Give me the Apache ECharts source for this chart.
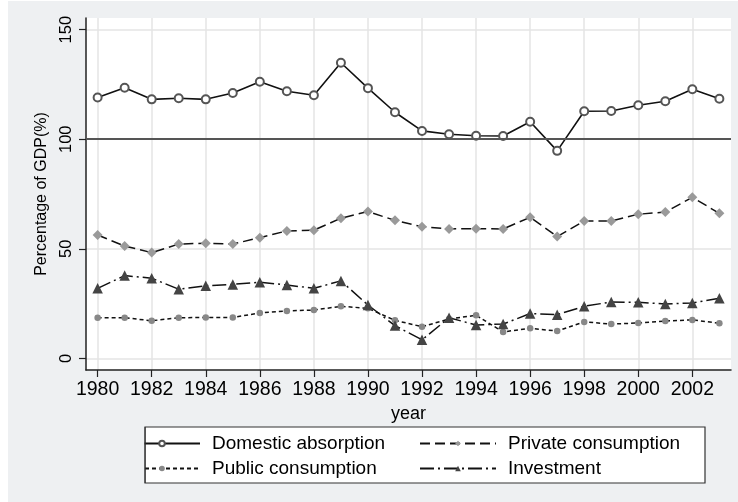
<!DOCTYPE html>
<html>
<head>
<meta charset="utf-8">
<script src="https://cdn.jsdelivr.net/npm/echarts@6/dist/echarts.min.js"></script>
<style>
  html, body { margin: 0; padding: 0; background: #ffffff; }
  #chart { position: absolute; left: 8px; top: 1px; width: 730px; height: 501px; }
</style>
</head>
<body>
<div id="chart"></div>
<script>
// Shares of GDP by expenditure component, 1980-2003
const years = [1980, 1981, 1982, 1983, 1984, 1985, 1986, 1987, 1988, 1989, 1990, 1991,
               1992, 1993, 1994, 1995, 1996, 1997, 1998, 1999, 2000, 2001, 2002, 2003];
const domesticAbsorption = [119.0, 123.5, 118.2, 118.7, 118.2, 121.1, 126.2, 121.9, 120.1, 134.9, 123.3, 112.3,
                            103.8, 102.3, 101.6, 101.5, 108.0, 94.7, 112.8, 112.9, 115.5, 117.3, 122.8, 118.5];
const privateConsumption = [56.3, 51.3, 48.3, 52.2, 52.6, 52.2, 55.1, 58.2, 58.5, 64.0, 67.0, 63.0,
                            60.1, 59.1, 59.2, 59.1, 64.4, 55.6, 62.7, 62.7, 65.8, 66.8, 73.5, 66.2];
const publicConsumption = [18.6, 18.6, 17.2, 18.6, 18.7, 18.7, 20.8, 21.7, 22.1, 23.8, 22.9, 17.4,
                           14.5, 18.0, 19.7, 12.1, 13.8, 12.5, 16.7, 15.7, 16.2, 17.1, 17.6, 16.1];
const investment = [32.0, 37.8, 36.6, 31.6, 33.2, 33.8, 34.8, 33.5, 32.0, 35.4, 24.4, 15.0,
                    8.5, 18.6, 15.3, 15.7, 20.5, 20.0, 23.8, 25.8, 25.6, 24.9, 25.3, 27.5];
const xTickYears = [1980, 1982, 1984, 1986, 1988, 1990, 1992, 1994, 1996, 1998, 2000, 2002];
const yTickValues = [0, 50, 100, 150];
const referenceLevel = 100;

const FONT = "'Liberation Sans', Arial, Helvetica, sans-serif";
const BG = '#eef0f2';
const pairs = vals => years.map((y, i) => [y, vals[i]]);

const chart = echarts.init(document.getElementById('chart'), null, { renderer: 'canvas' });

const legendText = { fontSize: 19, color: '#000', fontFamily: FONT, padding: [0, 0, 0, 7] };

chart.setOption({
  animation: false,
  backgroundColor: BG,
  textStyle: { fontFamily: FONT },
  grid: { left: 78, top: 17, right: 7, bottom: 132, containLabel: false,
          show: true, backgroundColor: '#ffffff', borderWidth: 0 },
  xAxis: {
    type: 'value', min: 1979.57, max: 2003.43,
    name: 'year', nameLocation: 'middle', nameGap: 30,
    nameTextStyle: { fontSize: 18, color: '#000', fontFamily: FONT },
    axisLine: { show: true, onZero: false, lineStyle: { color: '#222', width: 1.5 } },
    axisTick: { show: true, length: 7, customValues: xTickYears, lineStyle: { color: '#222', width: 1.2 } },
    axisLabel: { customValues: xTickYears, fontSize: 19.5, color: '#000', margin: 10, fontFamily: FONT,
                 formatter: v => String(v) },
    splitLine: { show: true, lineStyle: { color: '#e4e4e4', width: 1.5 } }
  },
  yAxis: {
    type: 'value', min: -5.25, max: 155.3,
    name: 'Percentage of GDP(%)', nameLocation: 'middle', nameGap: 36,
    nameTextStyle: { fontSize: 16, color: '#000', fontFamily: FONT },
    axisLine: { show: true, onZero: false, lineStyle: { color: '#222', width: 1.5 } },
    axisTick: { show: true, length: 7, customValues: yTickValues, lineStyle: { color: '#222', width: 1.2 } },
    axisLabel: { customValues: yTickValues, rotate: 90, fontSize: 16.5, color: '#000', margin: 11, fontFamily: FONT },
    splitLine: { show: true, lineStyle: { color: '#e4e4e4', width: 1.5 } }
  },
  graphic: [
    // legend frame
    { type: 'rect', z: 0, shape: { x: 137, y: 426, width: 560, height: 56 },
      style: { fill: '#ffffff', stroke: '#333', lineWidth: 1.2 } },
    // keys are clipped at the frame's left edge
    { type: 'rect', z: 10, shape: { x: 96, y: 426, width: 40.4, height: 56 },
      style: { fill: BG, stroke: null } },
    { type: 'line', z: 11, shape: { x1: 137, y1: 426, x2: 137, y2: 482 },
      style: { stroke: '#333', lineWidth: 1.2 } }
  ],
  legend: [
    { data: ['Domestic absorption', 'Public consumption'], orient: 'vertical',
      left: 110, top: 428, itemWidth: 76, itemHeight: 7, itemGap: 6, textStyle: legendText },
    { data: ['Private consumption', 'Investment'], orient: 'vertical',
      left: 406, top: 428, itemWidth: 76, itemHeight: 7, itemGap: 6, textStyle: legendText }
  ],
  series: [
    {
      name: 'Domestic absorption', type: 'line', data: pairs(domesticAbsorption),
      symbol: 'emptyCircle', symbolSize: 8,
      itemStyle: { color: '#555', borderWidth: 1.2 },
      lineStyle: { color: '#111', width: 1.6, type: 'solid' },
      markLine: {
        silent: true, symbol: 'none', label: { show: false },
        lineStyle: { color: '#555', width: 1.8, type: 'solid' },
        data: [{ yAxis: referenceLevel }]
      }
    },
    {
      name: 'Private consumption', type: 'line', data: pairs(privateConsumption),
      symbol: 'diamond', symbolSize: 10,
      itemStyle: { color: '#9a9a9a' },
      lineStyle: { color: '#111', width: 1.5, type: [10, 5] }
    },
    {
      name: 'Public consumption', type: 'line', data: pairs(publicConsumption),
      symbol: 'circle', symbolSize: 6.5,
      itemStyle: { color: '#888' },
      lineStyle: { color: '#111', width: 1.5, type: [4, 3] }
    },
    {
      name: 'Investment', type: 'line', data: pairs(investment),
      symbol: 'triangle', symbolSize: 10.5,
      itemStyle: { color: '#444' },
      lineStyle: { color: '#111', width: 1.5, type: [14, 4, 2, 4] }
    }
  ]
});
</script>
</body>
</html>
